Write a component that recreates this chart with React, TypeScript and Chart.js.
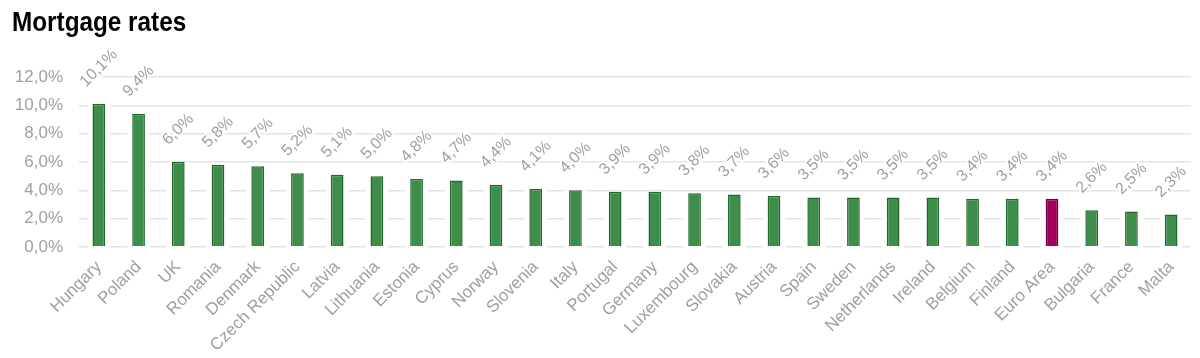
import React, { useEffect, useRef } from "react";
import { Chart, registerables } from "chart.js";

Chart.register(...registerables);

const categories = [
  "Hungary", "Poland", "UK", "Romania", "Denmark", "Czech Republic", "Latvia",
  "Lithuania", "Estonia", "Cyprus", "Norway", "Slovenia", "Italy", "Portugal",
  "Germany", "Luxembourg", "Slovakia", "Austria", "Spain", "Sweden",
  "Netherlands", "Ireland", "Belgium", "Finland", "Euro Area", "Bulgaria",
  "France", "Malta",
];

const rates = [
  10.1, 9.4, 6.0, 5.8, 5.7, 5.2, 5.1, 5.0, 4.8, 4.7, 4.4, 4.1, 4.0, 3.9, 3.9,
  3.8, 3.7, 3.6, 3.5, 3.5, 3.5, 3.5, 3.4, 3.4, 3.4, 2.6, 2.5, 2.3,
];

const highlighted = ["Euro Area"];

const yTicks = [0, 2, 4, 6, 8, 10, 12];

const fmt = (v: number) => v.toFixed(1).replace(".", ",") + "%";

const FONT = "'Liberation Sans', Arial, sans-serif";

const barGapPlugin = {
  id: "barGap",
  beforeDatasetsDraw(chart: any) {
    const ctx = chart.ctx;
    const meta = chart.getDatasetMeta(0);
    ctx.save();
    ctx.fillStyle = "#ffffff";
    meta.data.forEach((bar: any) => {
      const w = bar.width;
      ctx.fillRect(bar.x - w / 2 - 5, bar.y, w + 10, bar.base - bar.y + 2);
    });
    ctx.restore();
  },
};

const labelPlugin = {
  id: "rotLabels",
  afterDatasetsDraw(chart: any) {
    const ctx = chart.ctx;
    const meta = chart.getDatasetMeta(0);
    ctx.save();
    ctx.font = `16px ${FONT}`;
    ctx.textAlign = "center";
    ctx.textBaseline = "middle";
    meta.data.forEach((bar: any, i: number) => {
      const txt = fmt(rates[i]);
      const w = ctx.measureText(txt).width;
      const off = 14 + (w / 2 + 8) * 0.707;
      ctx.save();
      ctx.translate(bar.x, bar.y - off);
      ctx.rotate(-Math.PI / 4);
      ctx.lineWidth = 4;
      ctx.strokeStyle = "#ffffff";
      ctx.strokeText(txt, 0, 0);
      ctx.fillStyle = "#a0a0a0";
      ctx.fillText(txt, 0, 0);
      ctx.restore();
    });
    ctx.restore();
  },
};

export default function App() {
  const ref = useRef<HTMLCanvasElement | null>(null);

  useEffect(() => {
    document.body.style.margin = "0";
    if (!ref.current) return;
    const chart = new Chart(ref.current, {
      type: "bar",
      data: {
        labels: categories,
        datasets: [
          {
            data: rates,
            backgroundColor: categories.map((c) =>
              highlighted.includes(c) ? "#a0005c" : "#3f8d4a"
            ),
            borderColor: categories.map((c) =>
              highlighted.includes(c) ? "#6e0040" : "#1f6a2b"
            ),
            borderWidth: 1.5,
            barPercentage: 0.32,
            categoryPercentage: 1,
          },
        ],
      },
      options: {
        responsive: false,
        animation: false,
        maintainAspectRatio: false,
        layout: { padding: { top: 77, right: 9, left: 0, bottom: 0 } },
        plugins: {
          legend: { display: false },
          tooltip: { enabled: false },
          title: { display: false },
        },
        scales: {
          x: {
            grid: { display: false, drawTicks: false },
            border: { display: false },
            ticks: {
              color: "#a0a0a0",
              font: { family: FONT, size: 17 },
              minRotation: 45,
              maxRotation: 45,
              autoSkip: false,
              padding: 10,
            },
            afterFit(scale: any) {
              scale.height = 111;
            },
          },
          y: {
            min: 0,
            max: 12,
            afterBuildTicks(scale: any) {
              scale.ticks = yTicks.map((v) => ({ value: v }));
            },
            grid: { color: "#e3e3e3", lineWidth: 1.5, drawTicks: false },
            border: { display: false },
            ticks: {
              color: "#a0a0a0",
              font: { family: FONT, size: 17 },
              padding: 16,
              callback: (v: any) => fmt(Number(v)),
            },
            afterFit(scale: any) {
              scale.width = 79;
            },
          },
        },
      },
      plugins: [barGapPlugin, labelPlugin],
    });
    return () => chart.destroy();
  }, []);

  return (
    <div style={{ position: "relative", width: 1200, height: 358, background: "#fff" }}>
      <canvas ref={ref} width={1200} height={358} style={{ position: "absolute", left: 0, top: 0 }} />
      <div
        style={{
          position: "absolute",
          left: 12,
          top: 9,
          fontFamily: "'Liberation Sans', Arial, sans-serif",
          fontWeight: "bold",
          fontSize: 27,
          lineHeight: "27px",
          color: "#000",
          transform: "scaleX(0.9)",
          transformOrigin: "left top",
          whiteSpace: "nowrap",
        }}
      >
        Mortgage rates
      </div>
    </div>
  );
}
